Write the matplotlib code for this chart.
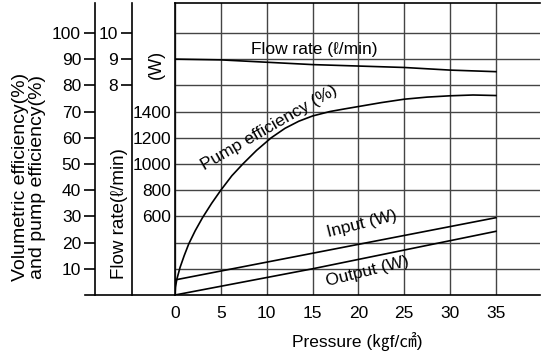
import matplotlib.pyplot as plt

plt.rcParams['font.family'] = ['Liberation Sans', 'DejaVu Sans', 'Noto Sans CJK JP']

# axis ticks
pressure_ticks = [0, 5, 10, 15, 20, 25, 30, 35]
pct_ticks = [10, 20, 30, 40, 50, 60, 70, 80, 90, 100]
flow_ticks = [8, 9, 10]
watt_ticks = [600, 800, 1000, 1200, 1400]

# curves
flow_p = [0, 5, 15, 25, 30, 35]
flow_val = [9.0, 8.97, 8.79, 8.68, 8.58, 8.52]

eff_p = [0, 0.05, 0.2, 0.55, 1.0, 1.5, 2.2, 3.0, 4.0, 5.0, 6.2, 7.4, 8.9,
         10.5, 12.0, 13.5, 15.0, 16.9, 18.5, 20, 22.5, 25, 27.5, 30, 32.5, 35]
eff_val = [0, 3, 6, 10.5, 15, 19.5, 24.5, 29.5, 35, 40, 45.5, 50, 55.2,
           60, 63.6, 66.3, 68.3, 70, 71.0, 71.9, 73.4, 74.7, 75.5, 76.0, 76.3, 76.1]

input_p = [0, 35]
input_w = [115, 590]
output_p = [0, 15, 35]
output_w = [0, 200, 486]

W, H = 542, 357
x0, x1, y0, y1 = 175, 540, 295, 3
pos = [x0 / W, 1 - y0 / H, (x1 - x0) / W, (y0 - y1) / H]
xmax = 39.8
pmax = 111.4
fs = 12.5
gc = '#444444'

fig = plt.figure(figsize=(W / 100, H / 100), dpi=100)

# main axes: grid, pressure axis, pump efficiency in %
ax = fig.add_axes(pos)
ax.set_xlim(0, xmax)
ax.set_ylim(0, pmax)
ax.set_xticks(pressure_ticks)
ax.set_yticks(pct_ticks)
ax.set_yticklabels([])
ax.tick_params(axis='both', length=0, labelsize=fs)
ax.tick_params(axis='x', pad=8)
ax.grid(True, color=gc, lw=1.0)
ax.spines['right'].set_visible(False)
for s in ['top', 'left', 'bottom']:
    ax.spines[s].set_linewidth(1.2)
ax.plot(eff_p, eff_val, color='black', lw=1.2)
# bottom line runs under the extra y axes
ax.plot([(85 - x0) / (x1 - x0), 0], [0, 0], transform=ax.transAxes,
        color='black', lw=1.2, clip_on=False)
ax.set_xlabel('Pressure (㎏f/㎠)', fontsize=fs, labelpad=8,
              family=['Liberation Sans', 'Noto Sans CJK JP'])

# watt axis on the main spine
axw = fig.add_axes(pos, frameon=False, sharex=ax)
axw.set_ylim(0, pmax * 20)
axw.set_yticks(watt_ticks)
axw.tick_params(axis='y', length=0, labelsize=fs, pad=3)
axw.xaxis.set_visible(False)
axw.plot(input_p, input_w, color='black', lw=1.2)
axw.plot(output_p, output_w, color='black', lw=1.2)
axw.text(-0.05, 0.788, '(W)', transform=axw.transAxes, rotation=90,
         ha='center', va='center', fontsize=fs + 0.5)


def side_axis(offset, top, ticks):
    a = fig.add_axes(pos, sharex=ax)
    a.patch.set_visible(False)
    for s in ['top', 'right', 'bottom']:
        a.spines[s].set_visible(False)
    a.spines['left'].set_position(('axes', offset))
    a.spines['left'].set_linewidth(1.2)
    a.set_ylim(0, top)
    a.set_yticks(ticks)
    a.tick_params(axis='y', length=8, width=1.2, labelsize=fs, pad=2)
    a.xaxis.set_visible(False)
    return a


axf = side_axis((132 - x0) / (x1 - x0), pmax / 10, flow_ticks)
axf.plot(flow_p, flow_val, color='black', lw=1.2)
axp = side_axis((95 - x0) / (x1 - x0), pmax, pct_ticks)

# curve labels
ax.text(15.2, 93.5, 'Flow rate (ℓ/min)', fontsize=fs, ha='center', va='center')
ax.text(10.3, 63.8, 'Pump efficiency (%)', fontsize=fs, ha='center',
        va='center', rotation=30)
ax.text(20.4, 27.2, 'Input (W)', fontsize=fs, ha='center', va='center',
        rotation=14)
ax.text(21.0, 8.8, 'Output (W)', fontsize=fs, ha='center', va='center',
        rotation=14)

# axis titles
fig.text(29 / W, 1 - 177 / H, 'Volumetric efficiency(%)\nand pump efficiency(%)',
         rotation=90, ha='center', va='center', fontsize=14,
         multialignment='center', linespacing=1.0)
fig.text(119 / W, 1 - 214 / H, 'Flow rate(ℓ/min)', rotation=90,
         ha='center', va='center', fontsize=13.5)

fig.savefig('out.png', dpi=100)
